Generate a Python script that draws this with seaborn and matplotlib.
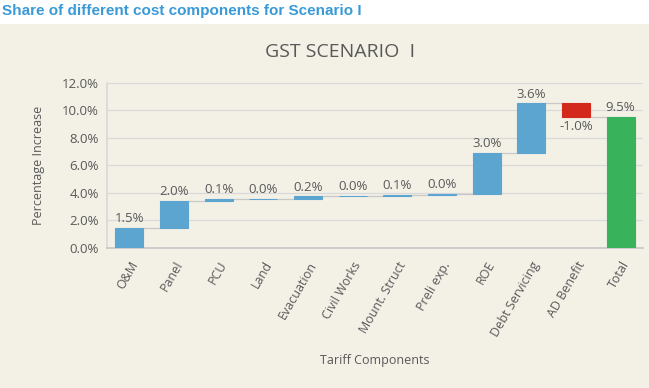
import numpy as np
import pandas as pd
import seaborn as sns
import matplotlib.pyplot as plt
from matplotlib.patches import Rectangle

# Data (percentage points added by each tariff component)
components = ['O&M', 'Panel', 'PCU', 'Land', 'Evacuation', 'Civil Works',
              'Mount. Struct', 'Preli exp.', 'ROE', 'Debt Servicing', 'AD Benefit']
changes = [1.46, 1.96, 0.12, 0.04, 0.16, 0.04, 0.09, 0.03, 3.02, 3.58, -0.98]
total_name = 'Total'
y_ticks = [0, 2, 4, 6, 8, 10, 12]

ends = np.cumsum(changes)
starts = ends - np.array(changes)
total = ends[-1]

df = pd.DataFrame({
    'component': components + [total_name],
    'height': list(np.abs(changes)) + [total],
    'bottom': list(np.minimum(starts, ends)) + [0.0],
    'value': changes + [total],
})

blue, red, green = '#5ba5d0', '#d3291d', '#38b35b'
colors = [blue if v > 0 else red for v in changes] + [green]
bg = '#f3f0e6'
grey = '#595959'

sns.set_theme(style='white')
plt.rcParams['font.family'] = ['Open Sans', 'DejaVu Sans']

fig = plt.figure(figsize=(6.49, 3.88), dpi=100)
fig.patch.set_facecolor('white')
fig.patches.append(Rectangle((0, 0), 1, 1 - 24 / 388, transform=fig.transFigure,
                             facecolor=bg, edgecolor='none', zorder=-10))

ax = fig.add_axes([107 / 649, 1 - 248 / 388, (643 - 107) / 649, (248 - 82.7) / 388])
ax.set_facecolor(bg)

w = 0.63
sns.barplot(data=df, x='component', y='height', bottom=df['bottom'].values,
            width=w, color=blue, ax=ax, zorder=3)
for patch, c in zip(ax.patches, colors):
    patch.set_facecolor(c)
    patch.set_edgecolor(c)
    patch.set_linewidth(0.8)

# connector lines
for i in range(len(components)):
    ax.plot([i + w / 2, i + 1 - w / 2], [ends[i], ends[i]], color='#c8c8c8',
            lw=0.9, zorder=2)

# data labels
for i, row in df.iterrows():
    txt = f"{row['value']:.1f}%"
    if row['value'] >= 0:
        ax.annotate(txt, (i, row['bottom'] + row['height']), xytext=(0, 2),
                    textcoords='offset points', ha='center', va='bottom',
                    fontsize=9.5, color=grey)
    else:
        ax.annotate(txt, (i, row['bottom']), xytext=(0, -2),
                    textcoords='offset points', ha='center', va='top',
                    fontsize=9.5, color=grey)

ax.set_xlim(-0.5, len(df) - 0.5)
ax.set_ylim(0, 12)
ax.set_yticks(y_ticks)
ax.set_yticklabels([f'{t:.1f}%' for t in y_ticks], fontsize=9.5, color=grey)
ax.yaxis.grid(True, color='#d9d9d9', lw=0.9, zorder=0)
ax.set_axisbelow(True)
ax.tick_params(axis='both', length=0)
ax.tick_params(axis='y', pad=6)
ax.tick_params(axis='x', pad=8)
plt.setp(ax.get_xticklabels(), rotation=60, ha='right', rotation_mode='anchor',
         fontsize=9, color=grey)
for s in ['top', 'right']:
    ax.spines[s].set_visible(False)
ax.spines['left'].set_color('#d9d9d9')
ax.spines['bottom'].set_color('#c8c8c8')

ax.set_xlabel('Tariff Components', fontsize=9, color=grey)
ax.xaxis.set_label_coords(0.5, -0.64)
ax.set_ylabel('Percentage Increase', fontsize=9, color=grey)
ax.yaxis.set_label_coords(-0.115, 0.5)

fig.text(340 / 649, 1 - 52 / 388, 'GST SCENARIO  I', ha='center', va='center',
         fontsize=14, color=grey)
fig.text(2 / 649, 1 - 11 / 388, 'Share of different cost components for Scenario I',
         ha='left', va='center', fontsize=11, fontweight='bold', color='#3a9ad8',
         family=['Liberation Sans Narrow', 'Liberation Sans', 'DejaVu Sans'])

plt.savefig('out.png', dpi=100, facecolor=fig.get_facecolor())
